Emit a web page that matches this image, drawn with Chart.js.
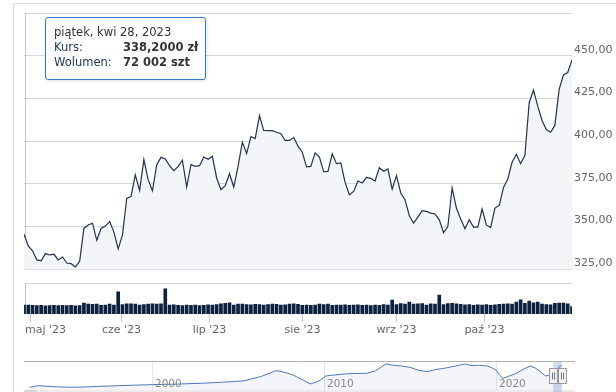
<!DOCTYPE html>
<html>
<head>
<meta charset="utf-8">
<script src="https://cdn.jsdelivr.net/npm/chart.js@4"></script>
<style>
  html, body { margin: 0; padding: 0; background: #fff; }
  #wrap { position: relative; width: 616px; height: 392px; overflow: hidden; }
  #frame { position: absolute; left: 13px; top: 3px; right: -5px; bottom: -5px;
           border-left: 1px solid #dedede; border-top: 1px solid #dedede; }
  canvas { position: absolute; left: 0; }
  #main { top: 0; }
  #nav { top: 355px; }
  #tip { position: absolute; left: 45px; top: 17px; width: 161px; height: 63px;
         box-sizing: border-box; border: 1px solid #2f7cc8; border-radius: 3px;
         background: rgba(255,255,255,0.94); box-shadow: 1px 1px 3px rgba(0,0,0,0.12);
         padding: 7px 0 0 8px; font: 11.5px 'DejaVu Sans', sans-serif; line-height: 14.8px;
         color: #333; white-space: nowrap; }
  #tip .k { display: inline-block; width: 69px; color: #22375a; }
  #tip b { color: #333; }
</style>
</head>
<body>
<div id="wrap">
  <div id="frame"></div>
  <canvas id="main" width="616" height="392"></canvas>
  <canvas id="nav" width="616" height="37"></canvas>
  <div id="tip">
    <div>piątek, kwi 28, 2023</div>
    <div><span class="k">Kurs:</span><b>338,2000 zł</b></div>
    <div><span class="k">Wolumen:</span><b>72 002 szt</b></div>
  </div>
</div>
<script>
// one value per trading day, 28.04.2023 - 31.10.2023
const closePrices = [
  345.6, 338.7, 335.8, 330.5, 330.0, 334.2, 333.4, 333.8, 330.5, 332.2,
  328.7, 328.3, 326.4, 329.7, 349.1, 351.0, 352.0, 342.0, 348.9, 350.3,
  353.0, 346.8, 337.0, 345.2, 366.5, 367.7, 380.3, 371.2, 389.3, 377.5,
  371.0, 386.3, 390.6, 389.7, 385.8, 382.8, 385.3, 388.9, 373.2, 386.3,
  385.3, 385.7, 390.8, 389.5, 391.2, 378.5, 371.6, 374.0, 381.0, 373.2,
  385.3, 399.5, 392.8, 402.8, 401.6, 415.0, 406.3, 406.2, 406.2, 405.3,
  404.4, 400.5, 400.5, 402.2, 397.2, 393.6, 385.0, 385.3, 393.2, 390.8,
  382.2, 382.4, 392.6, 386.9, 387.3, 375.9, 368.7, 370.6, 376.7, 375.6,
  378.9, 378.3, 376.7, 384.5, 382.4, 383.8, 372.0, 379.9, 369.7, 365.8,
  356.4, 352.0, 355.6, 359.3, 358.9, 357.9, 357.4, 354.0, 346.5, 350.0,
  372.6, 360.9, 354.4, 348.7, 354.0, 349.7, 349.7, 360.3, 351.0, 349.5,
  360.9, 362.4, 373.0, 377.9, 387.7, 392.4, 386.9, 391.8, 422.6, 430.0,
  420.6, 412.2, 406.9, 405.3, 409.3, 430.4, 438.9, 440.3, 447.7
];
// volume in thousands of shares
const volumes = [
  72, 72, 70, 68, 70, 66, 68, 70, 68, 70,
  68, 70, 66, 68, 88, 80, 78, 80, 70, 72,
  80, 72, 178, 76, 82, 82, 80, 72, 76, 80,
  82, 80, 82, 202, 72, 74, 70, 68, 72, 70,
  72, 68, 70, 74, 72, 76, 82, 86, 90, 72,
  80, 80, 76, 74, 78, 76, 72, 76, 80, 78,
  72, 74, 80, 82, 78, 70, 72, 70, 72, 80,
  76, 80, 70, 72, 72, 74, 70, 72, 74, 70,
  72, 68, 72, 70, 76, 72, 113, 76, 84, 80,
  97, 80, 82, 84, 72, 82, 80, 153, 76, 84,
  86, 82, 78, 74, 76, 70, 74, 72, 76, 70,
  74, 78, 80, 82, 80, 97, 115, 86, 105, 90,
  97, 80, 76, 74, 86, 88, 88, 82, 60
];
const priceTicks = [325, 350, 375, 400, 425, 450, 475];
const monthLabels = ["maj '23", "cze '23", "lip '23", "sie '23", "wrz '23", "paź '23"];
const monthTickAt = [1.4, 22.66, 43.22, 64.95, 86.92, 107.48]; // position on the trading-day axis

// navigator: full history
const navYears = [
  1992.9, 1993.4, 1993.9, 1994.5, 1995.3, 1996.0, 1996.8, 1997.5, 1998.3, 1999.0,
  2000.0, 2000.8, 2001.5, 2002.0, 2002.8, 2003.5, 2004.0, 2004.6, 2005.4, 2005.8,
  2006.3, 2006.7, 2007.0, 2007.2, 2007.5, 2007.9, 2008.2, 2008.4, 2008.8, 2009.2,
  2009.6, 2009.8, 2010.1, 2010.6, 2011.2, 2011.8, 2012.5, 2013.0, 2013.3, 2013.6,
  2014.0, 2014.5, 2015.0, 2015.5, 2016.0, 2016.5, 2017.0, 2017.5, 2018.0, 2018.2,
  2018.6, 2019.0, 2019.5, 2019.8, 2020.0, 2020.2, 2020.4, 2020.8, 2021.2, 2021.6,
  2022.0, 2022.3, 2022.5, 2022.8, 2022.9, 2023.3, 2023.5, 2023.7, 2023.8
];
const navPrices = [
  185, 204, 197, 190, 186, 188, 195, 200, 206, 210,
  216, 220, 222, 227, 232, 238, 244, 250, 263, 285,
  310, 340, 365, 381, 372, 350, 330, 310, 270, 224,
  250, 271, 318, 330, 342, 348, 350, 380, 420, 460,
  445, 436, 420, 385, 369, 395, 409, 430, 452, 460,
  440, 445, 436, 410, 389, 330, 291, 320, 350, 400,
  436, 410, 381, 330, 318, 340, 369, 440, 436
];
const navYearTicks = [2000, 2010, 2020];
const selectedRange = [2023.32, 2023.83];

const FONT = "'DejaVu Sans', sans-serif";
const LINE_COLOR = '#22324f';
const BAR_COLOR = '#0d2140';

const mainDecor = {
    id: 'mainDecor',
    beforeDatasetsDraw(chart) {
        const ctx = chart.ctx, a = chart.chartArea;
        const x = chart.scales.x, y = chart.scales.y, yv = chart.scales.yv;
        ctx.save();
        // volume pane top line
        ctx.strokeStyle = '#d8d8d8';
        ctx.lineWidth = 1;
        const top = Math.round(yv.getPixelForValue(250)) + 0.5;
        ctx.beginPath(); ctx.moveTo(a.left, top); ctx.lineTo(a.right, top); ctx.stroke();
        // crosshair on first point
        const cx = Math.round(x.getPixelForValue(0)) + 1.5;
        ctx.strokeStyle = '#c4c4c4';
        ctx.beginPath();
        ctx.moveTo(cx, y.getPixelForValue(475)); ctx.lineTo(cx, y.getPixelForValue(325));
        ctx.moveTo(cx, top); ctx.lineTo(cx, yv.getPixelForValue(0));
        ctx.stroke();
        ctx.restore();
    },
    afterDraw(chart) {
        const ctx = chart.ctx, a = chart.chartArea, x = chart.scales.x;
        ctx.save();
        ctx.strokeStyle = '#c0d0e0';
        ctx.lineWidth = 1;
        ctx.font = '11px ' + FONT;
        ctx.fillStyle = '#666';
        ctx.textBaseline = 'middle';
        monthTickAt.forEach((pos, i) => {
            const px = Math.round(x.getPixelForValue(pos)) + 0.5;
            ctx.beginPath(); ctx.moveTo(px, a.bottom); ctx.lineTo(px, a.bottom + 8); ctx.stroke();
            const w = ctx.measureText(monthLabels[i]).width;
            const left = Math.max(px - w / 2, a.left + 1);
            ctx.fillText(monthLabels[i], left, a.bottom + 16);
        });
        ctx.restore();
    }
};

new Chart(document.getElementById('main'), {
    type: 'line',
    data: {
        datasets: [{
            type: 'line',
            label: 'Kurs',
            data: closePrices.map((v, i) => ({ x: i, y: v })),
            yAxisID: 'y',
            borderColor: LINE_COLOR,
            borderWidth: 1.2,
            pointRadius: 0,
            tension: 0,
            fill: { value: 325 },
            backgroundColor: '#f3f5f8'
        }, {
            type: 'bar',
            label: 'Wolumen',
            data: volumes.map((v, i) => ({ x: i, y: v })),
            yAxisID: 'yv',
            backgroundColor: BAR_COLOR,
            barThickness: 3
        }]
    },
    options: {
        responsive: false,
        animation: false,
        layout: { padding: { left: 24, right: 0, top: 13.3, bottom: 78 } },
        plugins: { legend: { display: false }, tooltip: { enabled: false } },
        scales: {
            x: { type: 'linear', min: 0, max: closePrices.length - 1, offset: false, display: false },
            y: {
                position: 'right',
                min: 298.8, max: 475,
                afterBuildTicks: s => { s.ticks = priceTicks.map(v => ({ value: v })); },
                afterFit: s => { s.width = 44; },
                grid: { color: '#d8d8d8', drawTicks: false },
                border: { display: false },
                ticks: {
                    padding: 2,
                    labelOffset: -6,
                    color: '#666',
                    font: { family: FONT, size: 11 },
                    callback: v => v === 475 ? '' : v.toFixed(2).replace('.', ',')
                }
            },
            yv: { position: 'left', min: 0, max: 2425, display: false }
        }
    },
    plugins: [mainDecor]
});

const navDecor = {
    id: 'navDecor',
    beforeDatasetsDraw(chart) {
        const ctx = chart.ctx, a = chart.chartArea, x = chart.scales.x;
        ctx.save();
        ctx.strokeStyle = '#e6e6e6';
        ctx.lineWidth = 1;
        navYearTicks.forEach(yr => {
            const px = Math.round(x.getPixelForValue(yr)) + 0.5;
            ctx.beginPath(); ctx.moveTo(px, a.top); ctx.lineTo(px, a.bottom); ctx.stroke();
        });
        ctx.restore();
    },
    afterDatasetsDraw(chart) {
        const ctx = chart.ctx, a = chart.chartArea, x = chart.scales.x;
        ctx.save();
        ctx.font = '10.5px ' + FONT;
        ctx.fillStyle = '#888';
        ctx.textBaseline = 'alphabetic';
        navYearTicks.forEach(yr => {
            ctx.fillText(String(yr), x.getPixelForValue(yr) + 3, a.bottom - 3);
        });
        // top outline
        ctx.strokeStyle = '#b2b2b2';
        ctx.beginPath(); ctx.moveTo(a.left, a.top + 0.5); ctx.lineTo(a.right, a.top + 0.5); ctx.stroke();
        // scrollbar
        ctx.fillStyle = '#ececec';
        ctx.fillRect(a.left, a.bottom, a.right - a.left, chart.height - a.bottom);
        ctx.fillStyle = '#d6d6d6';
        ctx.fillRect(a.left, a.bottom, 13, chart.height - a.bottom);
        // selected range
        const x0 = x.getPixelForValue(selectedRange[0]);
        const x1 = x.getPixelForValue(selectedRange[1]);
        ctx.fillStyle = 'rgba(102,133,194,0.3)';
        ctx.fillRect(x0, a.top + 1, x1 - x0, chart.height - a.top);
        // handles
        const hc = (a.top + a.bottom) / 2;
        [x0, x1].forEach(hx => {
            const l = Math.round(hx - 4) + 0.5, t = Math.round(hc - 7.5) + 0.5;
            ctx.fillStyle = '#f2f2f2';
            ctx.strokeStyle = '#999';
            ctx.fillRect(l, t, 8, 15);
            ctx.strokeRect(l, t, 8, 15);
            ctx.strokeStyle = '#777';
            ctx.beginPath();
            ctx.moveTo(l + 3, t + 4); ctx.lineTo(l + 3, t + 11);
            ctx.moveTo(l + 5, t + 4); ctx.lineTo(l + 5, t + 11);
            ctx.stroke();
        });
        ctx.restore();
    }
};

new Chart(document.getElementById('nav'), {
    type: 'line',
    data: {
        datasets: [{
            data: navYears.map((yr, i) => ({ x: yr, y: navPrices[i] })),
            borderColor: '#4f79b8',
            borderWidth: 1,
            pointRadius: 0,
            tension: 0,
            fill: 'start',
            backgroundColor: 'rgba(102,133,194,0.08)'
        }]
    },
    options: {
        responsive: false,
        animation: false,
        layout: { padding: { left: 24, right: 41, top: 6, bottom: 2 } },
        plugins: { legend: { display: false }, tooltip: { enabled: false } },
        scales: {
            x: { type: 'linear', min: 1992.56, max: 2024.59, display: false },
            y: { min: 153, max: 495, display: false }
        }
    },
    plugins: [navDecor]
});
</script>
</body>
</html>
